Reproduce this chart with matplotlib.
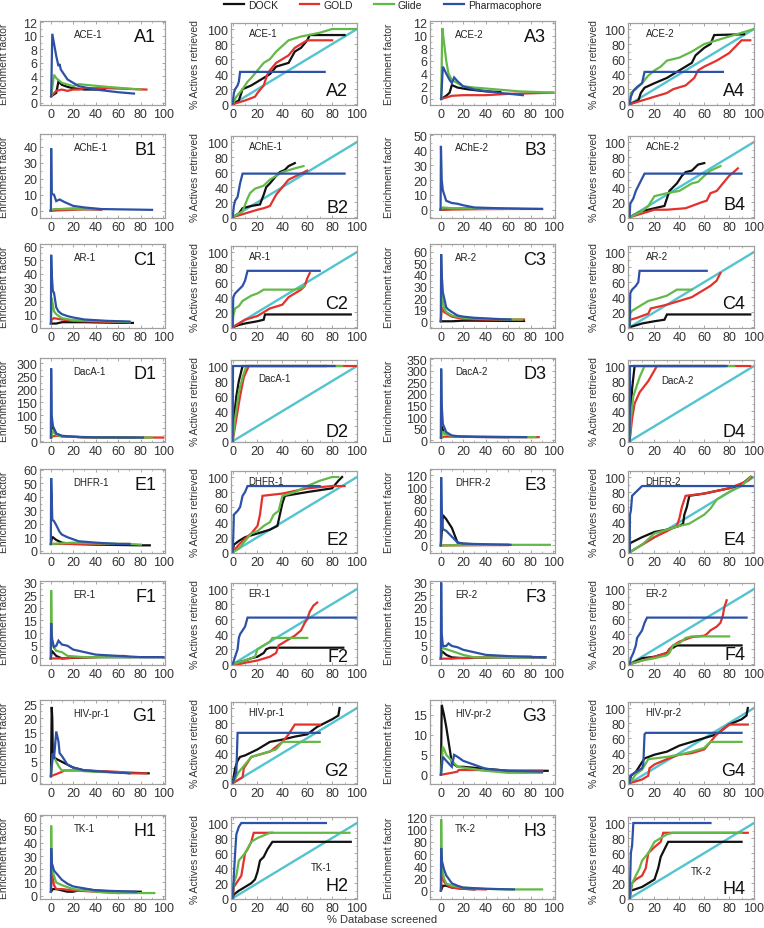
import matplotlib
matplotlib.use("Agg")
import matplotlib.pyplot as plt
from matplotlib.lines import Line2D
from matplotlib.ticker import AutoMinorLocator

plt.rcParams['font.family'] = ['Liberation Sans', 'DejaVu Sans']

METHODS = ["DOCK", "GOLD", "Glide", "Pharmacophore"]
COLORS = {"DOCK": "#111111", "GOLD": "#e3312b", "Glide": "#63b947",
          "Pharmacophore": "#2c51a6"}
RANDOM_COLOR = "#52c4d0"

# ---------------- enrichment factor curves: (x = % database, y = EF) ----------------
A1 = {
    "DOCK": ([0.5, 5, 7, 10, 15, 20, 30, 40, 48], [1, 1.5, 3.2, 2.7, 2.4, 2.2, 2.0, 2.0, 2.1]),
    "GOLD": ([0.5, 5, 10, 15, 20, 25, 30, 50, 85], [1, 1.8, 2.0, 1.8, 2.0, 2.0, 2.2, 2.2, 2.0]),
    "Glide": ([0.5, 3, 5, 10, 20, 25, 50, 80], [1, 4.2, 3.7, 3.0, 2.5, 2.8, 2.4, 2.0]),
    "Pharmacophore": ([0.5, 1.5, 5, 7, 8, 9, 15, 25, 40, 60, 74],
                      [1, 10.3, 7, 5.5, 5.8, 5, 3.5, 2.5, 2.0, 1.6, 1.4]),
}
A3 = {
    "DOCK": ([0.5, 5, 8, 10, 15, 25, 40, 53], [0, 0.5, 1, 2.2, 1.8, 1.5, 1.2, 1.1]),
    "GOLD": ([0.5, 10, 20, 40, 60, 100], [0, 0.5, 0.6, 0.6, 0.8, 1.0]),
    "Glide": ([0.5, 1.5, 3, 5, 7, 10, 20, 30, 50, 70, 100],
              [0, 11.2, 9, 6, 4, 3, 2, 1.8, 1.5, 1.2, 1.0]),
    "Pharmacophore": ([0.5, 2, 5, 8, 10, 12, 15, 20, 30, 50, 73],
                      [0, 5.1, 4, 3, 2.5, 3.4, 2.8, 2.0, 1.5, 1.0, 0.6]),
}
B1 = {
    "DOCK": ([0, 10, 20, 30, 45], [0, 1, 1.2, 1, 0.8]),
    "GOLD": ([0, 20, 30, 45], [0, 0.5, 0.8, 0.8]),
    "Glide": ([0, 3, 10, 30, 40], [0, 1, 1, 1, 1]),
    "Pharmacophore": ([0.3, 0.5, 1, 3, 5, 8, 12, 20, 30, 45, 90],
                      [0, 39, 10.5, 10, 6, 7, 5.5, 3, 2, 1, 0.5]),
}
B3 = {
    "DOCK": ([0, 10, 30, 55], [0, 0.5, 1, 0.5]),
    "GOLD": ([0, 30, 60, 90], [0, 0.3, 0.5, 0.5]),
    "Glide": ([0, 2, 10, 30, 50, 70], [0, 1.5, 1, 0.8, 0.5, 0.5]),
    "Pharmacophore": ([0, 0.3, 1, 2, 5, 10, 15, 20, 30, 50, 90],
                      [0, 43, 20, 13, 6, 4.5, 4, 3, 1.5, 1, 0.5]),
}
C1 = {
    "DOCK": ([0.3, 5, 10, 30, 60, 73], [3, 3, 4, 4, 3.5, 3.5]),
    "GOLD": ([0.3, 1, 3, 10, 20, 40, 60, 70], [3, 6, 7, 6, 5, 4.5, 4, 4]),
    "Glide": ([0.3, 1, 3, 5, 10, 20, 40, 60, 70], [3, 22, 12, 10, 7, 5.5, 5, 4.5, 4]),
    "Pharmacophore": ([0.3, 0.5, 1, 2, 3, 5, 7, 10, 15, 20, 30, 50, 70],
                      [3, 54, 40, 27, 26, 15, 12, 10, 8.5, 7.5, 6, 5, 4.5]),
}
C3 = {
    "DOCK": ([0.2, 10, 20, 30, 60, 74], [0, 0, 0.5, 0.5, 0.3, 0.3]),
    "GOLD": ([0.2, 1, 3, 10, 20, 40, 74], [0, 12, 8, 4, 2, 1.5, 1.5]),
    "Glide": ([0.2, 1, 3, 5, 10, 20, 40, 62, 72], [0, 23, 12, 8, 5, 3, 2, 1.5, 1.5]),
    "Pharmacophore": ([0.2, 0.5, 1, 2, 5, 7, 10, 15, 20, 30, 50, 62],
                      [0, 58, 40, 25, 12, 10, 8, 5, 4, 3, 2, 1.5]),
}
D1 = {
    "DOCK": ([0.5, 1, 2, 5, 10, 30, 75], [15, 75, 55, 30, 20, 16, 15]),
    "GOLD": ([0.5, 2, 5, 10, 30, 100], [15, 20, 22, 20, 16, 15]),
    "Glide": ([0.5, 2, 5, 10, 30, 90], [15, 40, 25, 20, 16, 15]),
    "Pharmacophore": ([0.2, 0.5, 1, 2, 5, 10, 20, 40, 82],
                      [15, 280, 100, 60, 30, 22, 18, 16, 15]),
}
D3 = {
    "DOCK": ([0.5, 1, 3, 10, 30, 60], [10, 60, 30, 18, 14, 13]),
    "GOLD": ([0.5, 3, 10, 30, 87], [10, 15, 15, 14, 13]),
    "Glide": ([0.5, 2, 5, 10, 30, 84], [10, 35, 25, 18, 14, 13]),
    "Pharmacophore": ([0.2, 0.5, 1, 2, 5, 10, 20, 40, 76],
                      [10, 310, 150, 70, 35, 20, 15, 14, 13]),
}
E1 = {
    "DOCK": ([0.2, 1, 2, 5, 10, 20, 40, 80, 88], [5, 9, 10, 8, 6, 5, 4.5, 4, 4]),
    "GOLD": ([0.2, 20, 40, 70], [5, 5, 5, 5]),
    "Glide": ([0.2, 10, 20, 37, 70, 80], [5, 5.5, 6, 5.5, 5, 4.5]),
    "Pharmacophore": ([0.2, 0.5, 1, 1.5, 3, 5, 8, 10, 15, 20, 25, 40, 60, 70],
                      [5, 54, 40, 23, 22, 19, 14, 12, 10, 8.5, 7, 6, 5, 5]),
}
E3 = {
    "DOCK": ([0.2, 2, 5, 10, 15, 20, 40, 60], [0, 52, 45, 30, 5, 3, 1, 1]),
    "GOLD": ([0.2, 40, 60], [0, 0.5, 0.5]),
    "Glide": ([0.2, 20, 60, 97], [0, 0.5, 1, 1]),
    "Pharmacophore": ([0.2, 0.5, 1, 2, 5, 10, 15, 20, 40, 62],
                      [0, 117, 60, 28, 25, 15, 5, 3, 2, 1]),
}
F1 = {
    "DOCK": ([0.2, 1, 3, 5, 10, 20, 40, 75, 100], [0, 3, 2, 1, 0, 0.2, 0.5, 0.5, 0.5]),
    "GOLD": ([0.2, 10, 20, 40, 65, 70], [0, 0, 0.3, 0.5, 1, 0.5]),
    "Glide": ([0.2, 0.5, 1, 2, 5, 10, 15, 30, 60, 75],
              [0, 27, 10, 5, 3, 2.5, 1, 0.5, 0.5, 0.5]),
    "Pharmacophore": ([0.2, 0.5, 1, 3, 5, 7, 10, 15, 20, 30, 40, 60, 80, 100],
                      [0, 14, 8, 4.5, 5, 7, 5.5, 5, 3.5, 2.5, 1.5, 1, 0.5, 0.5]),
}
F3 = {
    "DOCK": ([0.2, 1, 5, 10, 20, 50, 93], [0, 3, 1.5, 0.5, 0.2, 0.5, 0.5]),
    "GOLD": ([0.2, 10, 20, 40, 80, 82], [0, 0, 0.3, 0.5, 0.8, 0.5]),
    "Glide": ([0.2, 1, 3, 10, 20, 30, 50, 80], [0, 5, 4, 3, 1.5, 0.5, 0.5, 0.5]),
    "Pharmacophore": ([0.2, 0.5, 1, 2, 5, 7, 10, 15, 20, 30, 40, 60, 93],
                      [0, 30, 10, 5, 5, 6, 5, 4.5, 3.5, 2.5, 1.5, 1, 0.5]),
}
G1 = {
    "DOCK": ([0.3, 1, 1.5, 2, 5, 10, 15, 20, 30, 50, 70, 87],
             [0, 24, 20, 7, 6, 5, 4, 3, 2, 1.5, 1.2, 1]),
    "GOLD": ([0.3, 10, 12, 30, 60, 70, 85], [0, 1.5, 2, 2, 1.5, 1, 1]),
    "Glide": ([0.3, 2, 5, 8, 10, 20, 40, 70], [0, 7.5, 5, 3, 2, 2, 1.5, 1.2]),
    "Pharmacophore": ([0.3, 2, 3, 5, 7, 8, 10, 15, 20, 30, 50, 70],
                      [0, 8, 6, 15.5, 12, 8, 7, 4, 3, 2, 1.5, 1]),
}
G3 = {
    "DOCK": ([0.3, 1, 3, 5, 10, 15, 20, 40, 60, 95], [0, 17.5, 15, 12, 3, 2, 2, 1.5, 1, 1]),
    "GOLD": ([0.3, 10, 15, 16, 30, 60, 90], [0, 0.5, 0.8, 1.2, 1.2, 1, 1]),
    "Glide": ([0.3, 2, 3, 5, 10, 15, 40, 60, 90], [0, 7, 6.5, 5, 3.5, 2, 1, 0.5, 0.5]),
    "Pharmacophore": ([0.3, 2, 5, 10, 12, 15, 20, 30, 40, 60, 90],
                      [0, 4.5, 3.5, 2, 5, 4.5, 3.5, 2.5, 1.5, 1, 0.8]),
}
H1 = {
    "DOCK": ([0.3, 2, 5, 15, 20, 30, 40, 60, 80], [3, 5, 5, 3, 3, 5, 4, 3, 3]),
    "GOLD": ([0.3, 1, 3, 5, 10, 20, 40, 60], [3, 18, 8, 5, 5, 4, 3, 2]),
    "Glide": ([0.3, 0.5, 1, 3, 5, 10, 20, 40, 60, 92], [3, 53, 20, 15, 10, 8, 5, 3, 2, 2]),
    "Pharmacophore": ([0.3, 0.5, 1, 3, 5, 10, 15, 20, 40, 76],
                      [3, 36, 25, 19, 17, 12, 9, 7, 4, 3]),
}
H3 = {
    "DOCK": ([0.3, 2, 5, 10, 20, 30], [0, 8, 8, 5, 3, 2]),
    "GOLD": ([0.3, 1, 3, 5, 10, 20, 40], [0, 30, 15, 10, 5, 3, 2]),
    "Glide": ([0.3, 0.5, 1, 3, 5, 10, 20, 40, 60, 90], [0, 117, 40, 20, 12, 8, 5, 3, 2, 2]),
    "Pharmacophore": ([0.3, 0.5, 1, 3, 5, 10, 15, 20, 40, 65],
                      [0, 70, 50, 35, 25, 12, 8, 5, 3, 2]),
}

# ---------------- accumulation curves: (x = % database, y = % actives) ----------------
A2 = {
    "DOCK": ([0, 5, 7, 8, 15, 25, 30, 35, 45, 50, 55, 60, 62, 90],
             [0, 5, 15, 20, 25, 35, 40, 50, 55, 70, 75, 85, 92, 92]),
    "GOLD": ([0, 10, 18, 20, 25, 28, 30, 35, 45, 50, 55, 60, 80],
             [0, 5, 10, 15, 25, 40, 45, 55, 65, 75, 80, 85, 85]),
    "Glide": ([0, 3, 8, 12, 15, 20, 25, 30, 35, 45, 55, 70, 80, 100],
              [0, 10, 20, 30, 35, 45, 55, 60, 70, 85, 90, 95, 100, 100]),
    "Pharmacophore": ([0, 1, 2, 4, 5, 6, 74], [0, 15, 20, 25, 30, 43, 43]),
}
A4 = {
    "DOCK": ([0, 7, 9, 12, 20, 30, 40, 45, 50, 53, 60, 65, 68, 92],
             [0, 5, 15, 22, 28, 35, 45, 50, 55, 65, 75, 80, 92, 93]),
    "GOLD": ([0, 10, 20, 30, 35, 45, 52, 55, 60, 70, 80, 90, 97],
             [0, 5, 10, 15, 20, 25, 35, 45, 50, 58, 68, 85, 85]),
    "Glide": ([0, 1, 5, 10, 12, 15, 20, 25, 30, 40, 50, 60, 70, 80, 90, 100],
              [0, 15, 20, 28, 32, 38, 45, 50, 58, 62, 70, 80, 85, 90, 95, 100]),
    "Pharmacophore": ([0, 1, 3, 6, 10, 12, 75], [0, 10, 18, 23, 28, 43, 43]),
}
B2 = {
    "DOCK": ([0, 5, 8, 15, 22, 25, 27, 30, 35, 38, 42, 45, 50],
             [0, 5, 12, 15, 17, 30, 40, 45, 55, 60, 63, 68, 72]),
    "GOLD": ([0, 10, 20, 25, 30, 35, 40, 45, 55, 60], [0, 5, 10, 12, 15, 30, 40, 50, 58, 62]),
    "Glide": ([0, 8, 12, 14, 18, 25, 30, 35, 40, 50, 57],
              [0, 8, 25, 32, 38, 42, 50, 55, 60, 65, 68]),
    "Pharmacophore": ([0, 1, 2, 4, 6, 8, 90], [0, 15, 22, 27, 45, 58, 58]),
}
B4 = {
    "DOCK": ([0, 10, 20, 28, 30, 32, 38, 42, 45, 50, 55, 60],
             [0, 8, 12, 15, 25, 35, 45, 55, 60, 62, 70, 72]),
    "GOLD": ([0, 10, 20, 30, 45, 50, 58, 62, 65, 70, 75, 80, 85, 87],
             [0, 5, 10, 10, 12, 15, 20, 22, 32, 35, 45, 55, 62, 65]),
    "Glide": ([0, 10, 15, 20, 25, 30, 40, 50, 55, 60, 65, 73],
              [0, 8, 15, 28, 30, 32, 35, 45, 47, 55, 62, 68]),
    "Pharmacophore": ([0, 0.5, 3, 5, 8, 12, 90], [0, 18, 25, 35, 45, 58, 58]),
}
C2 = {
    "DOCK": ([0, 5, 10, 20, 25, 26, 95], [0, 3, 5, 8, 10, 17, 17]),
    "GOLD": ([0, 5, 10, 20, 25, 30, 40, 45, 50, 55, 58, 60, 62],
             [0, 5, 10, 15, 20, 25, 30, 40, 45, 50, 55, 65, 72]),
    "Glide": ([0, 0.5, 2, 5, 8, 15, 20, 25, 50, 55, 58],
              [0, 15, 25, 28, 35, 42, 45, 50, 50, 52, 55]),
    "Pharmacophore": ([0, 0.5, 2, 5, 8, 10, 12, 70], [0, 40, 45, 50, 55, 62, 75, 75]),
}
C4 = {
    "DOCK": ([0, 10, 20, 28, 30, 97], [0, 5, 8, 10, 17, 17]),
    "GOLD": ([0, 0.5, 5, 10, 15, 17, 25, 30, 40, 50, 55, 60, 65, 70, 73],
             [0, 10, 12, 15, 18, 25, 28, 30, 35, 40, 45, 50, 55, 62, 72]),
    "Glide": ([0, 0.5, 2, 5, 10, 15, 20, 30, 35, 38, 50],
              [0, 18, 22, 25, 30, 35, 37, 42, 47, 50, 50]),
    "Pharmacophore": ([0, 0.5, 2, 5, 7, 8, 62], [0, 45, 50, 55, 60, 75, 75]),
}
D2 = {
    "DOCK": ([0, 1, 3, 5, 8, 75], [0, 30, 60, 80, 100, 100]),
    "GOLD": ([0, 3, 6, 9, 13, 100], [0, 30, 60, 85, 100, 100]),
    "Glide": ([0, 2, 5, 8, 11, 88], [0, 30, 65, 85, 100, 100]),
    "Pharmacophore": ([0, 0.3, 82], [0, 100, 100]),
}
D4 = {
    "DOCK": ([0, 1, 2, 4, 76], [0, 40, 70, 100, 100]),
    "GOLD": ([0, 2, 4, 8, 15, 22, 97], [0, 30, 50, 65, 80, 100, 100]),
    "Glide": ([0, 1, 3, 5, 8, 12, 84], [0, 30, 60, 70, 85, 100, 100]),
    "Pharmacophore": ([0, 0.3, 78], [0, 100, 100]),
}
E2 = {
    "DOCK": ([0, 1, 5, 10, 20, 30, 36, 38, 40, 42, 60, 80, 85, 88],
             [0, 10, 15, 20, 25, 30, 35, 50, 65, 75, 80, 85, 95, 100]),
    "GOLD": ([0, 5, 10, 15, 20, 22, 24, 40, 60, 80, 90],
             [0, 10, 18, 25, 35, 50, 75, 78, 85, 88, 88]),
    "Glide": ([0, 5, 10, 15, 20, 25, 30, 33, 37, 40, 50, 60, 70, 80, 85],
              [0, 5, 15, 25, 28, 35, 40, 50, 55, 75, 80, 88, 95, 100, 100]),
    "Pharmacophore": ([0, 0.5, 1, 4, 6, 8, 10, 12, 70], [0, 20, 50, 55, 60, 75, 80, 88, 88]),
}
E4 = {
    "DOCK": ([0, 0.3, 10, 20, 30, 40, 43, 44, 46, 48, 60, 80, 90, 97],
             [0, 12, 20, 27, 30, 35, 38, 50, 60, 75, 78, 85, 90, 100]),
    "GOLD": ([0, 10, 20, 30, 38, 40, 42, 45, 60, 80, 95, 98],
             [0, 10, 20, 28, 35, 45, 60, 75, 78, 85, 95, 100]),
    "Glide": ([0, 10, 20, 30, 40, 48, 55, 60, 65, 70, 80, 90, 97],
              [0, 10, 25, 30, 35, 38, 45, 50, 58, 70, 80, 88, 100]),
    "Pharmacophore": ([0, 0.3, 1, 2, 5, 10, 100], [0, 50, 55, 75, 80, 88, 88]),
}
F2 = {
    "DOCK": ([0, 10, 15, 20, 25, 27, 30, 89], [0, 5, 8, 10, 15, 20, 22, 22]),
    "GOLD": ([0, 5, 10, 20, 30, 35, 37, 40, 45, 50, 55, 58, 60, 62, 65, 68],
             [0, 0, 2, 5, 10, 15, 25, 28, 33, 38, 45, 55, 60, 70, 78, 82]),
    "Glide": ([0, 10, 18, 20, 25, 30, 32, 60], [0, 5, 10, 20, 25, 30, 35, 35]),
    "Pharmacophore": ([0, 2, 4, 5, 6, 8, 10, 12, 100], [0, 10, 20, 35, 40, 45, 50, 62, 62]),
}
F4 = {
    "DOCK": ([0, 10, 20, 30, 32, 35, 38, 90], [0, 8, 10, 15, 20, 22, 25, 25]),
    "GOLD": ([0, 10, 20, 30, 32, 35, 40, 45, 50, 60, 62, 65, 70, 73, 75, 76, 78],
             [0, 5, 10, 15, 20, 25, 30, 33, 36, 38, 40, 45, 50, 55, 65, 75, 85]),
    "Glide": ([0, 10, 20, 30, 32, 35, 40, 45, 50, 80], [0, 5, 8, 12, 15, 25, 28, 35, 37, 37]),
    "Pharmacophore": ([0, 1, 3, 5, 6, 8, 10, 12, 14, 94],
                      [0, 8, 15, 25, 35, 40, 45, 55, 62, 62]),
}
G2 = {
    "DOCK": ([0, 2, 4, 6, 10, 20, 30, 40, 50, 60, 68, 80, 85, 86],
             [0, 20, 30, 35, 37, 45, 55, 58, 62, 65, 75, 85, 90, 100]),
    "GOLD": ([0, 5, 8, 9, 15, 30, 40, 45, 50, 70], [0, 5, 8, 20, 35, 42, 55, 65, 78, 78]),
    "Glide": ([0, 5, 10, 15, 25, 35, 40, 70], [0, 15, 25, 35, 40, 45, 55, 55]),
    "Pharmacophore": ([0, 2, 3, 4, 70], [0, 10, 15, 67, 67]),
}
G4 = {
    "DOCK": ([0, 1, 5, 10, 12, 20, 30, 40, 50, 60, 70, 80, 90, 94, 95],
             [0, 10, 15, 28, 33, 38, 42, 50, 55, 60, 65, 78, 85, 90, 100]),
    "GOLD": ([0, 10, 15, 16, 20, 30, 40, 50, 60, 65, 70, 80, 95],
             [0, 5, 10, 20, 25, 32, 38, 40, 45, 55, 65, 78, 78]),
    "Glide": ([0, 5, 10, 15, 20, 30, 40, 50, 60, 65, 90],
              [0, 12, 18, 32, 33, 35, 38, 42, 47, 55, 55]),
    "Pharmacophore": ([0, 0.5, 5, 10, 11, 12, 13, 90], [0, 10, 15, 20, 25, 65, 67, 67]),
}
H2 = {
    "DOCK": ([0, 1, 5, 10, 15, 18, 20, 22, 25, 28, 32, 95],
             [0, 5, 10, 15, 20, 25, 35, 50, 55, 65, 75, 75]),
    "GOLD": ([0, 1, 3, 7, 8, 10, 12, 15, 17, 32], [0, 15, 20, 30, 40, 60, 65, 75, 87, 87]),
    "Glide": ([0, 1, 3, 5, 10, 15, 20, 30, 94], [0, 20, 30, 50, 60, 75, 80, 87, 87]),
    "Pharmacophore": ([0, 1, 2, 3, 5, 7, 75], [0, 30, 60, 85, 95, 100, 100]),
}
H4 = {
    "DOCK": ([0, 1, 10, 20, 23, 25, 28, 31, 90], [0, 10, 15, 25, 40, 55, 65, 75, 75]),
    "GOLD": ([0, 2, 5, 10, 13, 15, 20, 25, 27, 95], [0, 20, 25, 30, 40, 60, 68, 75, 87, 87]),
    "Glide": ([0, 2, 5, 8, 10, 15, 20, 25, 30, 35, 90],
              [0, 20, 30, 40, 50, 60, 75, 80, 85, 87, 87]),
    "Pharmacophore": ([0, 0.5, 1, 2, 3, 65], [0, 30, 60, 70, 100, 100]),
}

EF_YTICKS = {
    "A1": list(range(0, 13, 2)), "A3": list(range(0, 13, 2)),
    "B1": list(range(0, 41, 10)), "B3": list(range(0, 51, 10)),
    "C1": list(range(0, 61, 10)), "C3": list(range(0, 61, 10)),
    "D1": list(range(0, 301, 50)), "D3": list(range(0, 351, 50)),
    "E1": list(range(0, 61, 10)), "E3": list(range(0, 121, 20)),
    "F1": list(range(0, 31, 5)), "F3": list(range(0, 31, 5)),
    "G1": list(range(0, 26, 5)), "G3": list(range(0, 16, 5)),
    "H1": list(range(0, 61, 10)), "H3": list(range(0, 121, 20)),
}
C3_TICKLABELS = ["0", "19", "20", "30", "40", "50", "60"]
EF_YLIM = {
    "A1": (-0.3, 12.2), "A3": (-0.95, 12.3), "B1": (-4.6, 48), "B3": (-5.6, 51),
    "C1": (-0.3, 62), "C3": (-5.8, 66.7), "D1": (-2, 320), "D3": (-8, 356),
    "E1": (-1.7, 60.7), "E3": (-13, 131), "F1": (-2.6, 30.6), "F3": (-2.5, 30.6),
    "G1": (-2.7, 26.4), "G3": (-2.3, 18.7), "H1": (-2.5, 61), "H3": (-13.7, 124),
}

PANELS = [
    ("A1", "ACE-1", A1), ("A2", "ACE-1", A2), ("A3", "ACE-2", A3), ("A4", "ACE-2", A4),
    ("B1", "AChE-1", B1), ("B2", "AChE-1", B2), ("B3", "AChE-2", B3), ("B4", "AChE-2", B4),
    ("C1", "AR-1", C1), ("C2", "AR-1", C2), ("C3", "AR-2", C3), ("C4", "AR-2", C4),
    ("D1", "DacA-1", D1), ("D2", "DacA-1", D2), ("D3", "DacA-2", D3), ("D4", "DacA-2", D4),
    ("E1", "DHFR-1", E1), ("E2", "DHFR-1", E2), ("E3", "DHFR-2", E3), ("E4", "DHFR-2", E4),
    ("F1", "ER-1", F1), ("F2", "ER-1", F2), ("F3", "ER-2", F3), ("F4", "ER-2", F4),
    ("G1", "HIV-pr-1", G1), ("G2", "HIV-pr-1", G2), ("G3", "HIV-pr-2", G3), ("G4", "HIV-pr-2", G4),
    ("H1", "TK-1", H1), ("H2", "TK-1", H2), ("H3", "TK-2", H3), ("H4", "TK-2", H4),
]

# ---------------- layout (pixels) ----------------
W, H = 764, 929
ROW_TOPS = [22, 135, 245, 359, 470, 582, 701, 816]
COL_LEFTS = [40, 231, 430, 628]
COL_WIDTHS = [125, 126, 125, 126]
PANEL_H = 84
NAME_POS = {"D2": (0.22, 0.78), "D4": (0.26, 0.76), "H2": (0.63, 0.39), "H4": (0.50, 0.34)}
LABEL_Y = {"C2": 0.30, "C4": 0.30, "F2": 0.10, "F4": 0.13, "A2": 0.18, "A4": 0.18,
           "B2": 0.13, "D2": 0.13, "D4": 0.13, "H4": 0.13}

fig = plt.figure(figsize=(W / 100, H / 100), dpi=100)

for pid, name, data in PANELS:
    row = ord(pid[0]) - ord("A")
    col = int(pid[1]) - 1
    is_ef = col in (0, 2)
    top = ROW_TOPS[row] + (0 if is_ef else 2)
    h = PANEL_H - (0 if is_ef else 2)
    ax = fig.add_axes([COL_LEFTS[col] / W, 1 - (top + h) / H, COL_WIDTHS[col] / W, h / H])

    if not is_ef:
        ax.plot([0, 100], [0, 100], color=RANDOM_COLOR, lw=1.7, zorder=1)
    for m in METHODS:
        xs, ys = data[m]
        ax.plot(xs, ys, color=COLORS[m], lw=1.6, solid_joinstyle="miter", zorder=2)

    ax.set_xticks(range(0, 101, 20))
    if is_ef:
        ax.set_xlim(-9.4, 101.5)
        ax.set_ylim(*EF_YLIM[pid])
        ax.set_yticks(EF_YTICKS[pid])
        if pid == "C3":
            ax.set_yticklabels(C3_TICKLABELS)
        ax.set_ylabel("Enrichment factor", fontsize=7.5, color="#333333")
        ax.yaxis.set_label_coords(-0.245 if col == 0 else -0.285, 0.5)
        nx, ny = (0.27 if col == 0 else 0.2), 0.85
        ax.text(nx, ny, name, transform=ax.transAxes, fontsize=7, color="#222222",
                ha="left", va="center")
        ax.text(0.93, 0.82, pid, transform=ax.transAxes, fontsize=13, color="#111111",
                ha="right", va="center")
    else:
        ax.set_xlim(-1.3, 100)
        ax.set_ylim(-1, 108)
        ax.set_yticks(range(0, 101, 20))
        ax.set_ylabel("% Actives retrieved", fontsize=7.5, color="#333333")
        ax.yaxis.set_label_coords(-0.25 if col == 1 else -0.23, 0.5)
        nx, ny = NAME_POS.get(pid, (0.14, 0.88))
        ax.text(nx, ny, name, transform=ax.transAxes, fontsize=7, color="#222222",
                ha="left", va="center")
        ax.text(0.93, LABEL_Y.get(pid, 0.16), pid, transform=ax.transAxes, fontsize=13,
                color="#111111", ha="right", va="center")

    ax.xaxis.set_minor_locator(AutoMinorLocator(2))
    ax.yaxis.set_minor_locator(AutoMinorLocator(2))
    ax.tick_params(which="both", direction="in", top=True, right=True, color="#999999",
                   labelsize=9, labelcolor="#333333", pad=2)
    ax.tick_params(which="major", length=2.5, width=0.6)
    ax.tick_params(which="minor", length=1.5, width=0.5)
    for sp in ax.spines.values():
        sp.set_color("#a0a0a0")
        sp.set_linewidth(0.9)

handles = [Line2D([], [], color=COLORS[m], lw=1.6) for m in METHODS]
fig.legend(handles, METHODS, loc="center", bbox_to_anchor=(0.501, 1 - 6 / H), ncol=4,
           frameon=False, fontsize=7.5, handlelength=1.9, columnspacing=2.1,
           handletextpad=0.35, borderpad=0.1, labelcolor="#222222")
fig.text(0.5, 1 - 920 / H, "% Database screened", ha="center", va="center",
         fontsize=8, color="#333333")

fig.savefig("out.png", dpi=100)
